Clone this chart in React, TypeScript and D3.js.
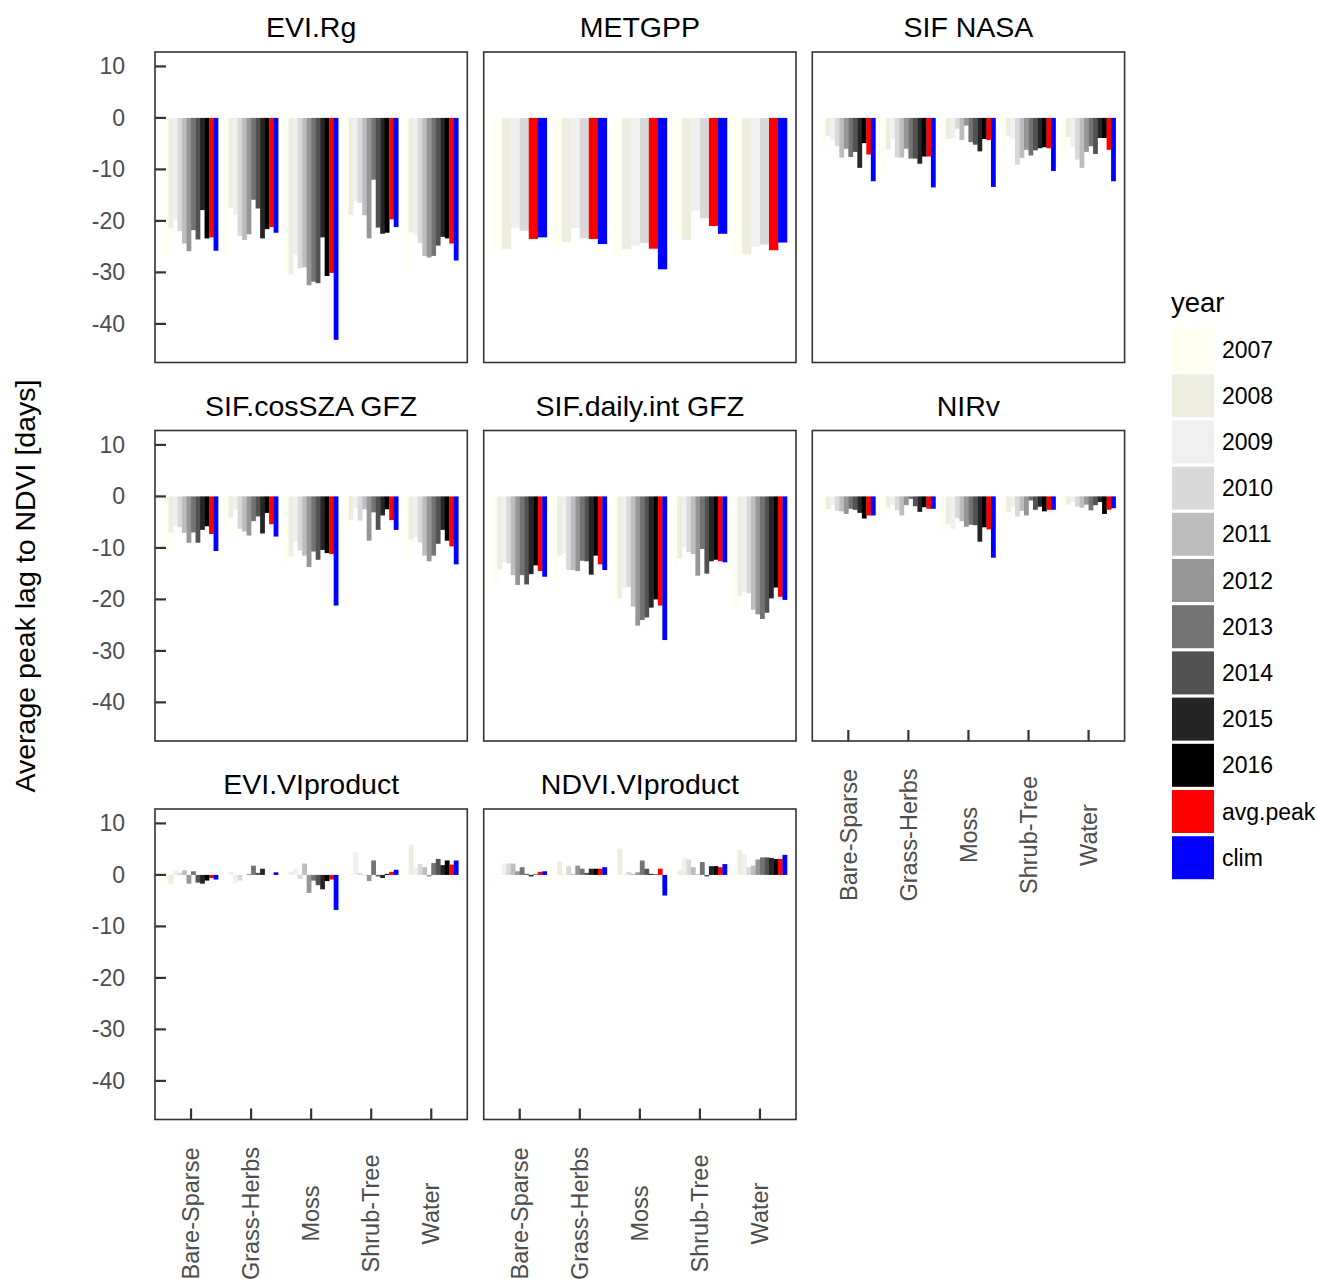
import React from "react";
import * as d3 from "d3";

const CATEGORIES = ["Bare-Sparse", "Grass-Herbs", "Moss", "Shrub-Tree", "Water"];
const SERIES = ["2007", "2008", "2009", "2010", "2011", "2012", "2013", "2014", "2015", "2016", "avg.peak", "clim"];
const SERIES_COLORS = ["#FFFFF0", "#EEEEE0", "#F0F0F0", "#D9D9D9", "#BDBDBD", "#969696", "#737373", "#525252", "#252525", "#000000", "#FF0000", "#0000FF"];
const Y_TICKS = [10, 0, -10, -20, -30, -40];

const EVI_RG = [
  [-26.8, -21.4, -19.7, -22.0, -24.4, -25.9, -21.8, -23.6, -17.9, -23.4, -23.2, -25.8],
  [-26.8, -17.4, -18.9, -22.9, -23.7, -22.6, -15.9, -17.6, -23.4, -21.6, -21.2, -22.3],
  [-30.4, -30.4, -26.6, -29.2, -29.0, -32.5, -31.8, -32.1, -23.2, -30.7, -30.1, -43.1],
  [-25.4, -18.9, -16.1, -16.5, -18.9, -23.4, -12.0, -21.3, -22.5, -22.3, -19.7, -21.2],
  [-28.9, -22.3, -22.8, -24.3, -26.8, -27.1, -26.8, -24.8, -23.1, -23.4, -24.4, -27.7],
];
const METGPP = [
  [-25.7, -25.5, -21.3, -21.9, null, null, null, null, null, null, -23.5, -23.2],
  [-25.0, -24.1, -21.4, -23.4, null, null, null, null, null, null, -23.5, -24.5],
  [-27.1, -25.5, -24.8, -24.3, null, null, null, null, null, null, -25.4, -29.4],
  [-22.8, -23.7, -18.1, -19.5, null, null, null, null, null, null, -21.0, -22.5],
  [-27.0, -26.5, -25.0, -24.6, null, null, null, null, null, null, -25.7, -24.2],
];
const SIF_NASA = [
  [-6.5, -3.5, -4.4, -5.5, -7.7, -6.0, -7.6, -6.6, -9.7, -4.9, -7.1, -12.3],
  [-10.2, -6.1, -4.1, -7.7, -7.7, -6.0, -7.9, -7.9, -8.9, -7.5, -7.5, -13.5],
  [-4.4, -4.1, -3.9, -2.1, -4.3, -1.5, -4.7, -5.2, -6.5, -4.1, -4.3, -13.4],
  [-7.0, -3.4, -4.1, -9.1, -7.8, -6.2, -7.3, -6.3, -5.9, -5.7, -5.9, -10.3],
  [-7.6, -3.7, -5.7, -8.1, -9.7, -6.6, -5.5, -7.0, -3.9, -3.9, -6.2, -12.3],
];
const SIF_COS_GFZ = [
  [-10.6, -7.0, -5.7, -6.0, -7.1, -9.0, -7.0, -9.0, -6.5, -5.8, -7.3, -10.6],
  [-7.1, -4.1, -2.6, -6.3, -6.8, -7.6, -4.8, -3.9, -7.2, -3.2, -5.4, -7.8],
  [-13.4, -11.7, -8.8, -10.5, -11.5, -13.7, -10.7, -12.3, -10.4, -11.0, -11.2, -21.2],
  [-6.1, -4.5, -2.3, -4.7, -2.5, -8.6, -3.1, -6.5, -3.7, -2.5, -4.6, -6.5],
  [-13.1, -8.4, -7.9, -8.9, -11.5, -12.6, -11.5, -9.2, -6.5, -8.6, -9.7, -13.2],
];
const SIF_DAILY_GFZ = [
  [-17.4, -14.3, -12.7, -13.0, -15.3, -17.2, -15.3, -17.1, -15.1, -13.4, -14.5, -15.6],
  [-15.7, -11.5, -11.0, -14.3, -14.3, -14.5, -12.5, -12.6, -15.2, -11.5, -13.2, -14.3],
  [-21.4, -19.8, -17.9, -17.6, -21.4, -25.1, -24.0, -23.5, -21.6, -20.0, -21.2, -27.9],
  [-13.7, -12.1, -9.9, -10.8, -11.2, -15.4, -10.2, -15.0, -12.6, -12.3, -12.6, -12.8],
  [-21.7, -19.4, -18.5, -18.8, -22.0, -22.9, -23.8, -22.6, -19.8, -17.7, -19.5, -20.1],
];
const NIRV = [
  [-3.0, -2.4, -1.7, -2.8, -2.9, -3.4, -2.4, -2.6, -3.2, -4.3, -3.7, -3.7],
  [-4.3, -2.2, -1.7, -2.7, -3.7, -1.7, -0.5, -1.9, -3.0, -2.1, -2.4, -2.4],
  [-7.2, -5.4, -6.3, -4.2, -4.8, -5.9, -5.5, -5.6, -8.8, -6.0, -6.4, -11.9],
  [-4.0, -3.0, -2.1, -3.9, -2.8, -3.7, -0.8, -2.6, -2.0, -2.9, -2.6, -2.6],
  [-2.1, -1.6, -1.1, -2.0, -2.2, -1.6, -2.7, -1.7, -1.1, -3.4, -2.6, -2.3],
];
const EVI_VIPRODUCT = [
  [-1.8, -1.7, 0.9, 0.4, 0.9, -1.7, 0.7, -1.5, -1.7, -1.1, -0.6, -0.9],
  [0.5, 0.6, -1.5, -1.1, 0.0, 0.2, 1.8, 0.4, 1.2, 0.0, 0.0, 0.5],
  [-0.6, 0.6, 1.2, -0.8, 2.2, -3.5, -1.1, -2.0, -2.8, -1.2, -0.9, -6.8],
  [0.1, 0.2, 4.5, 0.4, -0.1, -1.2, 2.8, -0.3, -0.6, 0.2, 0.6, 1.0],
  [1.0, 5.9, 1.4, 2.1, 1.5, -0.3, 2.3, 3.1, 1.9, 2.8, 2.0, 2.8],
];
const NDVI_VIPRODUCT = [
  [-1.7, 0.1, 2.2, 2.2, 2.2, 0.7, 1.5, 0.2, -0.3, 0.1, 0.6, 0.7],
  [0.7, 2.6, 0.1, 1.7, 0.2, 1.8, 1.2, 0.4, 1.2, 1.2, 1.2, 1.5],
  [0.1, 5.1, 0.2, 0.6, 0.2, 0.5, 2.8, 1.2, 0.2, 0.1, 1.2, -4.0],
  [0.7, 0.9, 3.2, 3.0, 1.5, 0.1, 2.5, -0.3, 1.7, 1.7, 1.5, 2.1],
  [1.0, 4.9, 4.1, 1.5, 1.8, 3.0, 3.4, 3.4, 3.3, 3.1, 3.1, 3.9],
];

const PANEL_TITLES = ["EVI.Rg", "METGPP", "SIF NASA", "SIF.cosSZA GFZ", "SIF.daily.int GFZ", "NIRv", "EVI.VIproduct", "NDVI.VIproduct"];
const PANEL_DATA = [EVI_RG, METGPP, SIF_NASA, SIF_COS_GFZ, SIF_DAILY_GFZ, NIRV, EVI_VIPRODUCT, NDVI_VIPRODUCT];
const X_AXIS_PANELS = [5, 6, 7];

const FONT = "'Liberation Sans', Arial, Helvetica, sans-serif";
const COL_X = [155, 483.7, 812.3];
const ROW_Y = [52, 430.5, 809];
const PW = 312.3;
const PH = 310.5;
const Y_DOMAIN: [number, number] = [-47.5, 12.8];

function Panel({ idx }: { idx: number }) {
  const col = idx % 3;
  const row = Math.floor(idx / 3);
  const left = COL_X[col];
  const top = ROW_Y[row];
  const x = d3.scaleLinear().domain([0.4, CATEGORIES.length + 0.6]).range([left, left + PW]);
  const y = d3.scaleLinear().domain(Y_DOMAIN).range([top + PH, top]);
  const data = PANEL_DATA[idx];
  const unit = x(1) - x(0);
  const bars: React.ReactNode[] = [];
  data.forEach((vals, ci) => {
    const present = vals.map((v, si) => ({ v, si })).filter((d) => d.v !== null) as { v: number; si: number }[];
    const n = present.length;
    const bw = (0.9 * unit) / n;
    const start = x(ci + 1) - 0.45 * unit;
    present.forEach((d, k) => {
      const y0 = y(Math.max(0, d.v));
      const y1 = y(Math.min(0, d.v));
      bars.push(
        <rect key={`${ci}-${d.si}`} x={start + k * bw} y={y0} width={bw + 0.3} height={Math.max(0, y1 - y0)} fill={SERIES_COLORS[d.si]} />
      );
    });
  });
  const showY = col === 0;
  const showX = X_AXIS_PANELS.includes(idx);
  return (
    <g>
      <text x={left + PW / 2} y={top - 15} textAnchor="middle" fontSize={28.5} fontFamily={FONT} fill="#000">
        {PANEL_TITLES[idx]}
      </text>
      {bars}
      <rect x={left} y={top} width={PW} height={PH} fill="none" stroke="#333" strokeWidth={1.6} />
      {showY &&
        Y_TICKS.map((t) => (
          <g key={t}>
            <line x1={left} x2={left + 11} y1={y(t)} y2={y(t)} stroke="#333" strokeWidth={2.2} />
            <text x={left - 30} y={y(t)} dy="0.35em" textAnchor="end" fontSize={23} fontFamily={FONT} fill="#4D4D4D">
              {String(t)}
            </text>
          </g>
        ))}
      {showX &&
        CATEGORIES.map((c, ci) => (
          <g key={c}>
            <line x1={x(ci + 1)} x2={x(ci + 1)} y1={top + PH} y2={top + PH - 11} stroke="#333" strokeWidth={2.2} />
            <text
              transform={`translate(${x(ci + 1)},${top + PH + 94}) rotate(-90)`}
              dy="0.35em"
              textAnchor="middle"
              fontSize={23.5}
              fontFamily={FONT}
              fill="#4D4D4D"
            >
              {c}
            </text>
          </g>
        ))}
    </g>
  );
}

export default function App() {
  const legendTop = 328;
  const pitch = 46.2;
  return (
    <svg width={1317} height={1279} style={{ position: "absolute", left: 0, top: 0, display: "block", background: "#fff" }}>
      <rect width={1317} height={1279} fill="#fff" />
      {PANEL_TITLES.map((_, i) => (
        <Panel key={i} idx={i} />
      ))}
      <text transform="translate(35,586) rotate(-90)" textAnchor="middle" fontSize={28.5} fontFamily={FONT} fill="#000">
        Average peak lag to NDVI [days]
      </text>
      <text x={1171} y={312} fontSize={27.5} fontFamily={FONT} fill="#000">
        year
      </text>
      {SERIES.map((s, i) => (
        <g key={s}>
          <rect x={1172} y={legendTop + i * pitch} width={42} height={43} fill={SERIES_COLORS[i]} />
          <text x={1222} y={legendTop + i * pitch + 21.5} dy="0.35em" fontSize={23} fontFamily={FONT} fill="#000">
            {s}
          </text>
        </g>
      ))}
    </svg>
  );
}
